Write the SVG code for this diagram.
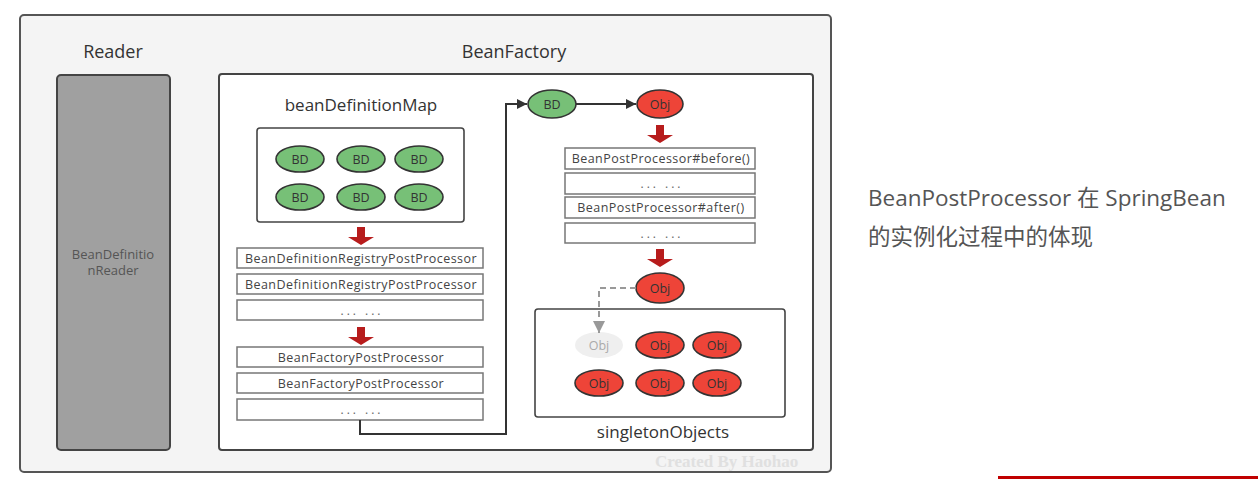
<svg xmlns="http://www.w3.org/2000/svg" width="1258" height="479" viewBox="0 0 1258 479">
<defs>
<style>
.t{font-family:"Open Sans","Noto Sans","Noto Sans CJK SC",sans-serif;fill:#333;text-anchor:middle}
.box{fill:#fff;stroke:#777;stroke-width:1.5}
.bx{font-family:"Open Sans","Noto Sans",sans-serif;font-size:12.5px;letter-spacing:0.45px;fill:#444;text-anchor:middle}
.dots{font-family:"Open Sans","Noto Sans",sans-serif;font-size:12px;letter-spacing:3px;fill:#666;text-anchor:middle}
.bd{fill:#77c077;stroke:#333;stroke-width:1.6}
.obj{fill:#ee4438;stroke:#333;stroke-width:1.6}
.et{font-family:"Open Sans","Noto Sans",sans-serif;font-size:12.5px;fill:#333;text-anchor:middle}
.ra{fill:#b71c1c}
</style>
<marker id="ah" viewBox="0 0 10 10" refX="10" refY="5" markerWidth="10" markerHeight="10" markerUnits="userSpaceOnUse" orient="auto"><path d="M0,0 L10,5 L0,10 z" fill="#333"/></marker>
<marker id="ahg" viewBox="0 0 10 10" refX="10" refY="5" markerWidth="12" markerHeight="12" markerUnits="userSpaceOnUse" orient="auto"><path d="M0,0 L10,5 L0,10 z" fill="#999"/></marker>
<path id="redArrow" d="M-4,0 H4 V10 H13 L0,18 L-13,10 H-4 Z"/>
</defs>
<g id="container">
<rect x="20" y="15" width="811" height="457" rx="4" fill="#f4f4f4" stroke="#555" stroke-width="2"/>
<text x="655" y="467" font-family="Liberation Serif,serif" font-weight="bold" font-size="17" fill="#e0e0e0">Created By Haohao</text>
</g>
<g id="reader">
<text class="t" x="113" y="58" font-size="18">Reader</text>
<rect x="57" y="75" width="113" height="375" rx="4" fill="#a0a0a0" stroke="#444" stroke-width="2"/>
<text class="t" x="113" y="259" font-size="13" style="fill:#555">BeanDefinitio</text>
<text class="t" x="113" y="275" font-size="13" style="fill:#555">nReader</text>
</g>
<g id="beanFactory">
<text class="t" x="514" y="58" font-size="18">BeanFactory</text>
<rect x="219" y="74" width="594" height="376" rx="3" fill="#fff" stroke="#444" stroke-width="2"/>
</g>
<g id="beanDefinitionMap">
<text class="t" x="361" y="111" font-size="17">beanDefinitionMap</text>
<rect x="257" y="128" width="207" height="94" rx="3" fill="#fff" stroke="#444" stroke-width="1.6"/>
<ellipse class="bd" cx="300" cy="159" rx="24" ry="13"/><text class="et" x="300" y="164">BD</text>
<ellipse class="bd" cx="361" cy="159" rx="24" ry="13"/><text class="et" x="361" y="164">BD</text>
<ellipse class="bd" cx="419" cy="159" rx="24" ry="13"/><text class="et" x="419" y="164">BD</text>
<ellipse class="bd" cx="300" cy="197" rx="24" ry="13"/><text class="et" x="300" y="202">BD</text>
<ellipse class="bd" cx="361" cy="197" rx="24" ry="13"/><text class="et" x="361" y="202">BD</text>
<ellipse class="bd" cx="419" cy="197" rx="24" ry="13"/><text class="et" x="419" y="202">BD</text>
</g>
<g id="factoryPostProcessors">
<use href="#redArrow" class="ra" x="361" y="227"/>
<rect class="box" x="237" y="248" width="246" height="20"/><text class="bx" x="361" y="263">BeanDefinitionRegistryPostProcessor</text>
<rect class="box" x="237" y="274" width="246" height="20"/><text class="bx" x="361" y="289">BeanDefinitionRegistryPostProcessor</text>
<rect class="box" x="237" y="300" width="246" height="20"/><text class="dots" x="362" y="315">... ...</text>
<use href="#redArrow" class="ra" x="361" y="327"/>
<rect class="box" x="237" y="347" width="246" height="20"/><text class="bx" x="361" y="362">BeanFactoryPostProcessor</text>
<rect class="box" x="237" y="373" width="246" height="20"/><text class="bx" x="361" y="388">BeanFactoryPostProcessor</text>
<rect class="box" x="237" y="399" width="246" height="21"/><text class="dots" x="362" y="414">... ...</text>
</g>
<g id="bdNode">
<ellipse class="bd" cx="552" cy="104" rx="24" ry="14"/><text class="et" x="552" y="109">BD</text>
</g>
<g id="objNode">
<ellipse class="obj" cx="660" cy="104" rx="23" ry="14"/><text class="et" x="660" y="109">Obj</text>
</g>
<g id="beanPostProcessors">
<use href="#redArrow" class="ra" x="660" y="125"/>
<rect class="box" x="565" y="148" width="190" height="21"/><text class="bx" x="661" y="163">BeanPostProcessor#before()</text>
<rect class="box" x="565" y="173" width="190" height="21"/><text class="dots" x="662" y="188">... ...</text>
<rect class="box" x="565" y="197" width="190" height="21"/><text class="bx" x="661" y="212">BeanPostProcessor#after()</text>
<rect class="box" x="565" y="223" width="190" height="20"/><text class="dots" x="662" y="238">... ...</text>
<use href="#redArrow" class="ra" x="660" y="249"/>
</g>
<g id="objFinal">
<ellipse class="obj" cx="660" cy="288" rx="24" ry="15"/><text class="et" x="660" y="293">Obj</text>
</g>
<g id="singletonObjects">
<rect x="535" y="309" width="250" height="108" rx="3" fill="#fff" stroke="#444" stroke-width="1.6"/>
<ellipse cx="599" cy="345" rx="24" ry="13" fill="#efefef"/><text class="et" x="599" y="350" style="fill:#aaa">Obj</text>
<ellipse class="obj" cx="660" cy="345" rx="24" ry="13"/><text class="et" x="660" y="350">Obj</text>
<ellipse class="obj" cx="717" cy="345" rx="24" ry="13"/><text class="et" x="717" y="350">Obj</text>
<ellipse class="obj" cx="599" cy="383" rx="24" ry="13"/><text class="et" x="599" y="388">Obj</text>
<ellipse class="obj" cx="660" cy="383" rx="24" ry="13"/><text class="et" x="660" y="388">Obj</text>
<ellipse class="obj" cx="717" cy="383" rx="24" ry="13"/><text class="et" x="717" y="388">Obj</text>
<text class="t" x="663" y="438" font-size="17">singletonObjects</text>
</g>
<g id="connectors" fill="none">
<path d="M360,420 V434 H506 V104 H527" stroke="#333" stroke-width="2" marker-end="url(#ah)"/>
<path d="M576,104 H636" stroke="#333" stroke-width="2" marker-end="url(#ah)"/>
<path d="M636,288 H599 V333" stroke="#999" stroke-width="2" stroke-dasharray="6,4" marker-end="url(#ahg)"/>
</g>
<g id="caption">
<text x="868" y="206" font-family="Open Sans,Noto Sans CJK SC,sans-serif" font-size="22.5" fill="#555">BeanPostProcessor 在 SpringBean</text>
<text x="868" y="245" font-family="Noto Sans CJK SC,sans-serif" font-size="22.5" fill="#555">的实例化过程中的体现</text>
</g>
<rect x="998" y="476" width="260" height="3" fill="#c00000"/>
</svg>
